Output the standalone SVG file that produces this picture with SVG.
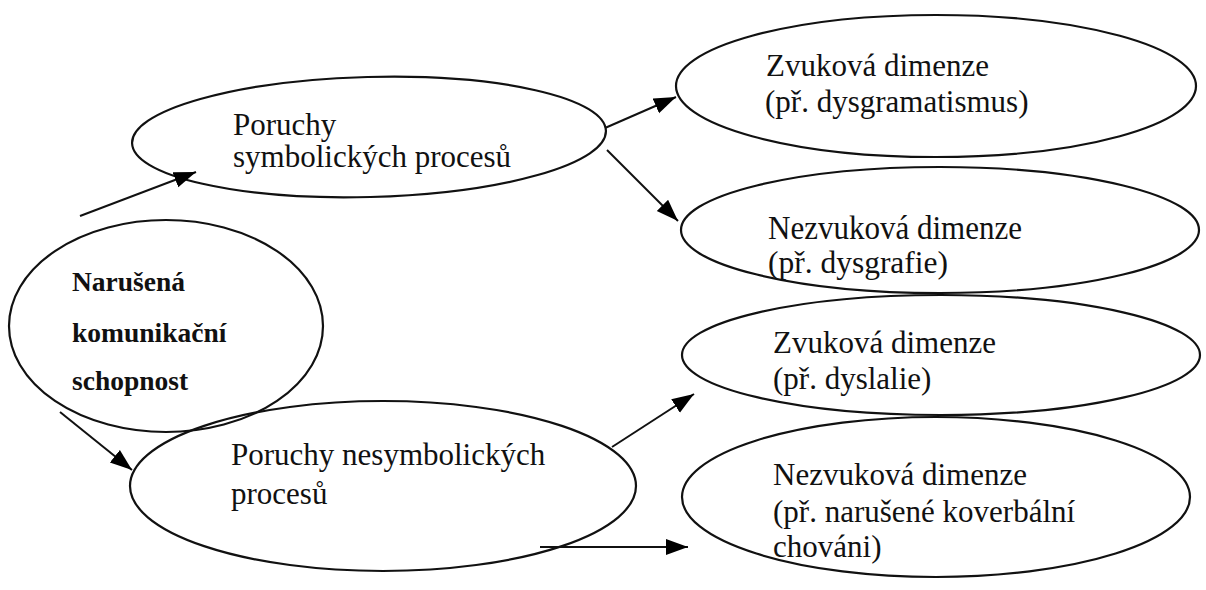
<svg xmlns="http://www.w3.org/2000/svg" width="1206" height="590" viewBox="0 0 1206 590">
<defs>
<marker id="ah" markerUnits="userSpaceOnUse" markerWidth="24" markerHeight="18" refX="22" refY="8" orient="auto">
<path d="M0,0 L22,8 L0,16 z" fill="#000"/>
</marker>
<style>
.n{fill:none;stroke:#111;stroke-width:2.2}
.t{font-family:"Liberation Serif","Times New Roman",serif;font-size:31px;fill:#111}
.b{font-family:"Liberation Serif","Times New Roman",serif;font-size:27.5px;font-weight:bold;fill:#111}
.c{fill:none;stroke:#111;stroke-width:2;marker-end:url(#ah)}
</style>
</defs>
<rect width="1206" height="590" fill="#fff"/>
<g id="node-narusena">
<ellipse class="n" cx="166" cy="326" rx="157" ry="106"/>
<text class="b" x="72" y="291">Narušená</text>
<text class="b" x="72" y="342">komunikační</text>
<text class="b" x="72" y="390">schopnost</text>
</g>
<g id="node-symbolicke">
<ellipse class="n" cx="369" cy="137" rx="237" ry="60" transform="rotate(-1.5 369 137)"/>
<text class="t" x="233" y="135">Poruchy</text>
<text class="t" x="233" y="167">symbolických procesů</text>
</g>
<g id="node-nesymbolicke">
<ellipse class="n" cx="383" cy="486" rx="253" ry="85"/>
<text class="t" x="231" y="465">Poruchy nesymbolických</text>
<text class="t" x="231" y="504">procesů</text>
</g>
<g id="node-zvukova1">
<ellipse class="n" cx="936" cy="86" rx="260" ry="71"/>
<text class="t" x="766" y="76">Zvuková dimenze</text>
<text class="t" x="765" y="112">(př. dysgramatismus)</text>
</g>
<g id="node-nezvukova1">
<ellipse class="n" cx="940" cy="230" rx="259" ry="63"/>
<text class="t" x="768" y="239" style="font-size:33px" textLength="254" lengthAdjust="spacingAndGlyphs">Nezvuková dimenze</text>
<text class="t" x="768" y="273" textLength="180" lengthAdjust="spacingAndGlyphs">(př. dysgrafie)</text>
</g>
<g id="node-zvukova2">
<ellipse class="n" cx="941" cy="355" rx="259" ry="60"/>
<text class="t" x="773" y="353">Zvuková dimenze</text>
<text class="t" x="773" y="389">(př. dyslalie)</text>
</g>
<g id="node-nezvukova2">
<ellipse class="n" cx="936" cy="497" rx="254" ry="80"/>
<text class="t" x="773" y="485">Nezvuková dimenze</text>
<text class="t" x="773" y="522">(př. narušené koverbální</text>
<text class="t" x="773" y="557">chováni)</text>
</g>
<g id="connectors">
<line class="c" x1="80" y1="216" x2="196" y2="172"/>
<line class="c" x1="605" y1="128" x2="676" y2="97"/>
<line class="c" x1="607" y1="150" x2="678" y2="221"/>
<line class="c" x1="60" y1="412" x2="132" y2="470"/>
<line class="c" x1="612" y1="447" x2="694" y2="394"/>
<line class="c" x1="540" y1="547" x2="688" y2="547"/>
</g>
</svg>
